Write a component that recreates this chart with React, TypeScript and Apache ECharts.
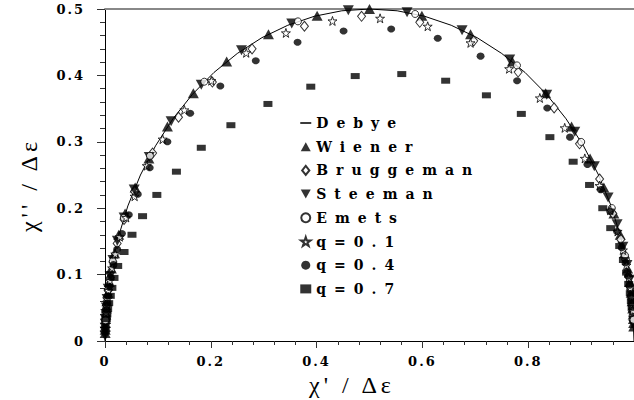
import React, { useEffect, useRef } from "react";
import * as echarts from "echarts";

const seriesNames = ["Debye", "Wiener", "Bruggeman", "Steeman", "Emets", "q=0.1", "q=0.4", "q=0.7"];

const debye: [number, number][] = [
  [0, 0], [0.0027, 0.0523], [0.0109, 0.104], [0.0245, 0.1545], [0.0432, 0.2034], [0.067, 0.25],
  [0.0955, 0.2939], [0.1284, 0.3346], [0.1654, 0.3716], [0.2061, 0.4045], [0.25, 0.433],
  [0.2966, 0.4568], [0.3455, 0.4755], [0.396, 0.4891], [0.4477, 0.4973], [0.5, 0.5],
  [0.5523, 0.4973], [0.604, 0.4891], [0.6545, 0.4755], [0.7034, 0.4568], [0.75, 0.433],
  [0.7939, 0.4045], [0.8346, 0.3716], [0.8716, 0.3346], [0.9045, 0.2939], [0.933, 0.25],
  [0.9568, 0.2034], [0.9755, 0.1545], [0.9891, 0.104], [0.9973, 0.0523], [1, 0],
];

const wiener: [number, number][] = [
  [0.0003, 0.012], [0.0004, 0.017], [0.0005, 0.022], [0.0007, 0.027], [0.0011, 0.033], [0.0016, 0.04], [0.0024, 0.0489],
  [0.0036, 0.0598], [0.0053, 0.0726], [0.008, 0.089], [0.012, 0.109], [0.018, 0.132],
  [0.026, 0.16], [0.038, 0.192], [0.057, 0.231], [0.083, 0.275], [0.118, 0.323],
  [0.167, 0.373], [0.23, 0.421], [0.309, 0.462], [0.401, 0.49], [0.5, 0.5],
  [0.599, 0.49], [0.691, 0.462], [0.77, 0.421], [0.833, 0.373], [0.882, 0.323],
  [0.917, 0.275], [0.943, 0.231], [0.962, 0.192], [0.974, 0.16], [0.982, 0.132],
  [0.988, 0.109], [0.992, 0.089], [0.9947, 0.0726], [0.9964, 0.0598], [0.9976, 0.0489],
  [0.9984, 0.04], [0.9989, 0.033], [0.9993, 0.027], [0.9995, 0.022],
];

const bruggeman: [number, number][] = [
  [0.001, 0.031], [0.0015, 0.038], [0.0024, 0.048], [0.0038, 0.06], [0.006, 0.076],
  [0.0095, 0.095], [0.015, 0.119], [0.023, 0.147], [0.036, 0.183], [0.056, 0.225],
  [0.09, 0.283], [0.139, 0.337], [0.203, 0.39], [0.278, 0.44], [0.377, 0.474],
  [0.485, 0.489], [0.595, 0.48], [0.697, 0.452], [0.781, 0.405], [0.849, 0.351],
  [0.897, 0.297], [0.935, 0.244], [0.96, 0.192], [0.975, 0.153], [0.984, 0.123],
  [0.99, 0.0975], [0.9937, 0.0775], [0.996, 0.062], [0.9975, 0.049], [0.9984, 0.039],
  [0.999, 0.031],
];

const steeman: [number, number][] = [
  [0.0002, 0.008], [0.0004, 0.014], [0.0005, 0.02],
  [0.0007, 0.026], [0.0011, 0.0324], [0.0016, 0.0405], [0.0026, 0.0506], [0.004, 0.0632],
  [0.0062, 0.0787], [0.0097, 0.098], [0.0151, 0.122], [0.0234, 0.151], [0.0361, 0.186],
  [0.0552, 0.228], [0.0837, 0.277], [0.125, 0.331], [0.182, 0.386], [0.258, 0.438],
  [0.353, 0.478], [0.46, 0.498], [0.571, 0.495], [0.675, 0.468], [0.765, 0.424],
  [0.835, 0.371], [0.888, 0.315], [0.925, 0.263], [0.951, 0.216], [0.968, 0.176],
  [0.979, 0.142], [0.9867, 0.1145], [0.9914, 0.0922], [0.9945, 0.0741], [0.9965, 0.0594],
  [0.9977, 0.0476], [0.9986, 0.038], [0.9991, 0.0305], [0.9994, 0.0244],
];

const emets: [number, number][] = [
  [0.001, 0.0312], [0.0024, 0.0491], [0.006, 0.0771], [0.0147, 0.1202], [0.0357, 0.1855],
  [0.085, 0.2789], [0.1877, 0.3905], [0.3647, 0.4814], [0.5863, 0.4925], [0.7788, 0.4151],
  [0.9002, 0.2998], [0.9581, 0.2002], [0.9831, 0.1288], [0.9933, 0.0815], [0.9973, 0.0519],
  [0.999, 0.032],
];

const q01: [number, number][] = [
  [0.002, 0.0425], [0.003, 0.052], [0.0044, 0.063], [0.0064, 0.076], [0.0093, 0.091],
  [0.0135, 0.11], [0.0195, 0.131], [0.028, 0.157], [0.04, 0.186], [0.056, 0.218],
  [0.079, 0.264], [0.109, 0.304], [0.15, 0.348], [0.201, 0.392], [0.267, 0.434],
  [0.342, 0.464], [0.43, 0.482], [0.52, 0.486], [0.61, 0.474], [0.691, 0.449],
  [0.764, 0.41], [0.822, 0.366], [0.869, 0.321], [0.907, 0.275], [0.935, 0.234],
  [0.955, 0.197], [0.969, 0.165], [0.979, 0.137], [0.9855, 0.114], [0.99, 0.095],
  [0.993, 0.08], [0.9952, 0.066], [0.9967, 0.055], [0.9977, 0.046],
];

const q04: [number, number][] = [
  [0.0026, 0.047], [0.0038, 0.057], [0.0055, 0.068], [0.008, 0.082], [0.011, 0.096],
  [0.016, 0.115], [0.023, 0.138], [0.032, 0.162], [0.045, 0.19], [0.062, 0.221],
  [0.0845, 0.261], [0.118, 0.3], [0.161, 0.343], [0.218, 0.384], [0.285, 0.422],
  [0.364, 0.45], [0.451, 0.467], [0.541, 0.47], [0.629, 0.456], [0.71, 0.429],
  [0.779, 0.392], [0.836, 0.351], [0.879, 0.307], [0.912, 0.266], [0.937, 0.228],
  [0.955, 0.195], [0.968, 0.165], [0.977, 0.141], [0.984, 0.118], [0.989, 0.098],
  [0.992, 0.084], [0.9945, 0.069], [0.9962, 0.058],
];

const q07: [number, number][] = [
  [0.0025, 0.033], [0.0035, 0.04], [0.005, 0.048], [0.007, 0.057], [0.01, 0.068],
  [0.013, 0.08], [0.017, 0.095], [0.024, 0.113], [0.036, 0.134], [0.051, 0.16],
  [0.071, 0.188], [0.098, 0.22], [0.135, 0.255], [0.182, 0.291], [0.238, 0.325],
  [0.308, 0.357], [0.389, 0.383], [0.473, 0.399], [0.561, 0.402], [0.644, 0.392],
  [0.721, 0.37], [0.787, 0.342], [0.841, 0.307], [0.885, 0.27], [0.916, 0.235],
  [0.941, 0.2], [0.956, 0.17], [0.973, 0.143], [0.98, 0.122], [0.986, 0.103],
  [0.99, 0.086], [0.993, 0.072], [0.995, 0.06], [0.9965, 0.05],
];

const xLabel = "χ' / Δε";
const yLabel = "χ'' / Δε";

const STAR =
  "path://M50,0 L61.8,35.1 L98.1,35.1 L68.8,56.7 L79.4,91 L50,70 L20.6,91 L31.2,56.7 L1.9,35.1 L38.2,35.1 Z";
const DOWN_TRI = "path://M0,0 L10,0 L5,9 Z";
const UP_TRI = "path://M5,0 L10,9 L0,9 Z";
const DASH = "path://M0,0 L10,0 L10,1.4 L0,1.4 Z";
const DIAMOND = "path://M4,0 L8,5 L4,10 L0,5 Z";
const SMALL_CIRCLE = "path://M4,0 A4,4 0 1 1 3.99,0 Z M4,1.5 A2.5,2.5 0 1 0 4.01,1.5 Z";

const TICK_FONT = "DejaVu Serif";

export default function App() {
  const ref = useRef<HTMLDivElement>(null);

  useEffect(() => {
    document.body.style.margin = "0";
    if (!ref.current) return;
    const chart = echarts.init(ref.current, undefined, { renderer: "svg" });

    const scatterBase = {
      type: "scatter" as const,
      clip: false,
    };

    const legendIcons: Record<string, string> = {
      Debye: DASH,
      Wiener: UP_TRI,
      Bruggeman: DIAMOND,
      Steeman: DOWN_TRI,
      Emets: "circle",
      "q=0.1": STAR,
      "q=0.4": "circle",
      "q=0.7": "rect",
    };

    chart.setOption({
      animation: false,
      backgroundColor: "#ffffff",
      grid: { left: 105, top: 9, width: 532.5, height: 332 },
      legend: {
        orient: "vertical",
        left: 300,
        top: 116,
        padding: 0,
        itemWidth: 11,
        itemHeight: 9,
        itemGap: 9.7,
        data: seriesNames.map((n) => ({ name: n, icon: legendIcons[n] })),
        textStyle: { fontFamily: TICK_FONT, fontWeight: "bold", fontSize: 14, color: "#000" },
      },
      xAxis: [
        {
          type: "value",
          min: 0,
          max: 1,
          interval: 0.2,
          axisLine: { show: true, lineStyle: { color: "#000", width: 1 } },
          axisTick: { show: true, length: 7, lineStyle: { color: "#333" } },
          minorTick: { show: true, splitNumber: 5, length: 4, lineStyle: { color: "#333" } },
          splitLine: { show: false },
          axisLabel: {
            margin: 14,
            showMaxLabel: false,
            fontFamily: TICK_FONT,
            fontWeight: "bold",
            fontSize: 13,
            color: "#000",
          },
        },
        {
          type: "value",
          position: "top",
          min: 0,
          max: 1,
          axisLine: { show: true, lineStyle: { color: "#888", width: 2 } },
          axisTick: { show: false },
          axisLabel: { show: false },
          splitLine: { show: false },
        },
      ],
      yAxis: {
        type: "value",
        min: 0,
        max: 0.5,
        interval: 0.1,
        axisLine: { show: true, lineStyle: { color: "#000", width: 1 } },
        axisTick: { show: true, length: 8, lineStyle: { color: "#333" } },
        minorTick: { show: true, splitNumber: 5, length: 5, lineStyle: { color: "#333" } },
        splitLine: { show: false },
        axisLabel: {
          margin: 20,
          fontFamily: TICK_FONT,
          fontWeight: "bold",
          fontSize: 13,
          color: "#000",
        },
      },
      graphic: [
        {
          type: "text",
          x: 352,
          y: 385,
          style: {
            text: xLabel,
            fontFamily: "Liberation Serif",
            fontSize: 24,
            fill: "#000",
            align: "center",
            verticalAlign: "middle",
            textAlign: "center",
            textVerticalAlign: "middle",
          },
        },
        {
          type: "text",
          x: 29,
          y: 185,
          rotation: Math.PI / 2,
          style: {
            text: yLabel,
            fontFamily: "Liberation Serif",
            fontSize: 24,
            fill: "#000",
            align: "center",
            verticalAlign: "middle",
            textAlign: "center",
            textVerticalAlign: "middle",
          },
        },
      ],
      series: [
        {
          name: "Debye",
          type: "line",
          data: debye,
          symbol: "none",
          lineStyle: { color: "#000", width: 1 },
          itemStyle: { color: "#000" },
          z: 1,
        },
        {
          ...scatterBase,
          name: "Wiener",
          data: wiener,
          symbol: "triangle",
          symbolSize: [11, 10],
          itemStyle: { color: "#000" },
        },
        {
          ...scatterBase,
          name: "Bruggeman",
          data: bruggeman,
          symbol: "diamond",
          symbolSize: [8, 10],
          itemStyle: { color: "#fff", borderColor: "#000", borderWidth: 1 },
        },
        {
          ...scatterBase,
          name: "Steeman",
          data: steeman,
          symbol: "triangle",
          symbolRotate: 180,
          symbolSize: [11, 10],
          itemStyle: { color: "#000" },
        },
        {
          ...scatterBase,
          name: "Emets",
          data: emets,
          symbol: "circle",
          symbolSize: 7,
          itemStyle: { color: "#fff", borderColor: "#000", borderWidth: 1 },
        },
        {
          ...scatterBase,
          name: "q=0.1",
          data: q01,
          symbol: STAR,
          symbolSize: 9,
          itemStyle: { color: "#fff", borderColor: "#000", borderWidth: 1 },
        },
        {
          ...scatterBase,
          name: "q=0.4",
          data: q04,
          symbol: "circle",
          symbolSize: [8, 7],
          itemStyle: { color: "#000" },
        },
        {
          ...scatterBase,
          name: "q=0.7",
          data: q07,
          symbol: "rect",
          symbolSize: [9, 6],
          itemStyle: { color: "#000" },
        },
      ],
    });

    return () => chart.dispose();
  }, []);

  return (
    <>
      <style>{`
        .chartbox text[style*="14px"] { letter-spacing: 8px; }
        .chartbox text[style*="13px"] { letter-spacing: 2px; }
        .chartbox text[style*="24px"] { letter-spacing: 4px; }
      `}</style>
      <div
        ref={ref}
        className="chartbox"
        style={{ position: "absolute", left: 0, top: 0, width: 634, height: 400 }}
      />
    </>
  );
}
